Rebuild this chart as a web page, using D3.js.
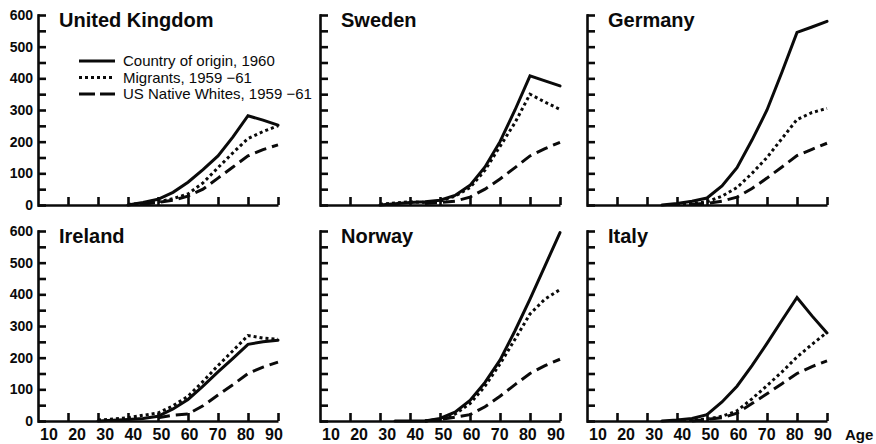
<!DOCTYPE html>
<html>
<head>
<meta charset="utf-8">
<script src="https://cdn.jsdelivr.net/npm/d3@7/dist/d3.min.js"></script>
<style>
  html, body { margin: 0; padding: 0; background: #fff; }
  svg { display: block; font-family: "Liberation Sans", Arial, sans-serif; }
</style>
</head>
<body>
<svg id="chart" width="876" height="444"></svg>
<script>
// Age points at which rates are plotted
const ages = [30, 35, 40, 45, 50, 55, 60, 65, 70, 75, 80, 85, 90];

// Rates per country: country of origin (1960), migrants and US native whites (1959-61)
const ukOrigin     = [null, null, 0, 8, 18, 40, 72, 112, 155, 215, 282, 268, 252];
const ukMigrants   = [null, null, 2, 5, 10, 20, 35, 70, 118, 165, 210, 232, 250];
const ukNative     = [null, null, null, 2, 8, 15, 28, 50, 85, 120, 155, 175, 190];

const seOrigin     = [0, 4, 8, 10, 15, 30, 62, 120, 200, 300, 408, 392, 376];
const seMigrants   = [2, 6, 10, 8, 12, 28, 55, 110, 185, 260, 350, 325, 302];
const seNative     = [null, null, null, 5, 8, 12, 25, 50, 82, 118, 155, 178, 198];

const deOrigin     = [null, 0, 5, 12, 22, 60, 118, 205, 300, 420, 545, 562, 580];
const deMigrants   = [null, null, 3, 5, 10, 28, 55, 100, 150, 210, 270, 292, 305];
const deNative     = [null, null, null, 2, 5, 12, 25, 52, 85, 120, 156, 176, 195];

const ieOrigin     = [0, 2, 5, 8, 15, 38, 68, 110, 155, 198, 242, 250, 255];
const ieMigrants   = [3, 6, 10, 18, 25, 48, 78, 125, 175, 222, 270, 262, 258];
const ieNative     = [null, null, null, null, 10, 18, 22, 48, 82, 115, 150, 170, 186];

const noOrigin     = [null, 0, 0, 0, 8, 28, 65, 122, 192, 285, 385, 490, 595];
const noMigrants   = [null, null, null, 0, 5, 22, 55, 110, 180, 258, 338, 385, 415];
const noNative     = [null, null, null, 0, 5, 12, 20, 45, 78, 115, 150, 175, 195];

const itOrigin     = [null, 0, 3, 8, 20, 60, 110, 175, 245, 318, 390, 332, 278];
const itMigrants   = [null, null, 2, 3, 6, 15, 32, 70, 112, 155, 202, 242, 280];
const itNative     = [null, null, null, 0, 5, 10, 25, 55, 86, 118, 150, 172, 190];

const countries = ["United Kingdom", "Sweden", "Germany", "Ireland", "Norway", "Italy"];
const seriesByCountry = [
  [ukOrigin, ukMigrants, ukNative],
  [seOrigin, seMigrants, seNative],
  [deOrigin, deMigrants, deNative],
  [ieOrigin, ieMigrants, ieNative],
  [noOrigin, noMigrants, noNative],
  [itOrigin, itMigrants, itNative]
];
const seriesNames = ["Country of origin, 1960", "Migrants, 1959 \u221261", "US Native Whites, 1959 \u221261"];

const xTicks = [10, 20, 30, 40, 50, 60, 70, 80, 90];
const yTicks = [0, 50, 100, 150, 200, 250, 300, 350, 400, 450, 500, 550, 600];
const yLabels = [0, 100, 200, 300, 400, 500, 600];

// Line styles for the three series
const dashes = [null, "3,3", "12,6"];
const caps = ["round", "butt", "butt"];

const svg = d3.select("#chart");
const colLeft = [38, 320, 587];
const rowBottom = [205, 421];
const panelW = 240, panelH = 190;
const ink = "#0a0a0a";

countries.forEach((name, i) => {
  const col = i % 3, row = Math.floor(i / 3);
  const x0 = colLeft[col], y0 = rowBottom[row];
  const x = d3.scaleLinear().domain([10, 90]).range([x0, x0 + panelW]);
  const y = d3.scaleLinear().domain([0, 600]).range([y0, y0 - panelH]);
  const g = svg.append("g");

  // y axis: inward ticks every 50, labels every 100 on the first column
  const yAxis = d3.axisLeft(y).tickValues(yTicks).tickSize(-8).tickSizeOuter(0)
    .tickFormat(() => "");
  const ya = g.append("g").attr("transform", `translate(${x0},0)`).call(yAxis);
  ya.selectAll("path, line").attr("stroke", ink).attr("stroke-width", 2.6);
  ya.select(".domain").attr("stroke-linecap", "square");

  if (col === 0) {
    g.selectAll(".ylab").data(yLabels).join("text")
      .attr("x", x0 - 5).attr("y", d => y(d)).attr("dy", "0.36em")
      .attr("text-anchor", "end").attr("font-size", 14).attr("font-weight", "bold")
      .attr("fill", ink).text(d => d);
  }

  // x axis: upward ticks
  const xAxis = d3.axisBottom(x).tickValues(xTicks.slice(1)).tickSize(-8).tickSizeOuter(0)
    .tickFormat(() => "");
  const xa = g.append("g").attr("transform", `translate(0,${y0})`).call(xAxis);
  xa.selectAll("path, line").attr("stroke", ink).attr("stroke-width", 2.6);

  if (row === 1) {
    const xl = d3.scaleLinear().domain([10, 90]).range([x0 + 11, x0 + 236]);
    g.selectAll(".xlab").data(xTicks).join("text")
      .attr("x", d => xl(d)).attr("y", y0 + 19)
      .attr("text-anchor", "middle").attr("font-size", 16).attr("font-weight", "bold")
      .attr("fill", ink).text(d => d);
  }

  // Panel title
  g.append("text").attr("x", x0 + 21).attr("y", y0 - panelH + 12)
    .attr("font-size", 20).attr("font-weight", "bold").attr("fill", ink).text(name);

  // Curves
  const line = d3.line()
    .defined(d => d[1] !== null)
    .x(d => x(d[0])).y(d => y(d[1]));
  seriesByCountry[i].forEach((vals, s) => {
    g.append("path")
      .datum(ages.map((a, k) => [a, vals[k]]))
      .attr("d", line)
      .attr("fill", "none").attr("stroke", ink).attr("stroke-width", 3)
      .attr("stroke-linejoin", "miter")
      .attr("stroke-linecap", caps[s])
      .attr("stroke-dasharray", dashes[s]);
  });

  // Legend inside the first panel
  if (i === 0) {
    const lg = g.append("g");
    seriesNames.forEach((label, s) => {
      const cy = 61 + s * 16.5;
      lg.append("line").attr("x1", 79).attr("x2", 115).attr("y1", cy).attr("y2", cy)
        .attr("stroke", ink).attr("stroke-width", 3)
        .attr("stroke-dasharray", s === 2 ? "16,5" : dashes[s]);
      lg.append("text").attr("x", 123).attr("y", cy + 5)
        .attr("font-size", 15).attr("fill", ink).text(label);
    });
  }
});

// Axis title
svg.append("text").attr("x", 845).attr("y", 440)
  .attr("font-size", 15).attr("font-weight", "bold").attr("fill", ink).text("Age");
</script>
</body>
</html>
